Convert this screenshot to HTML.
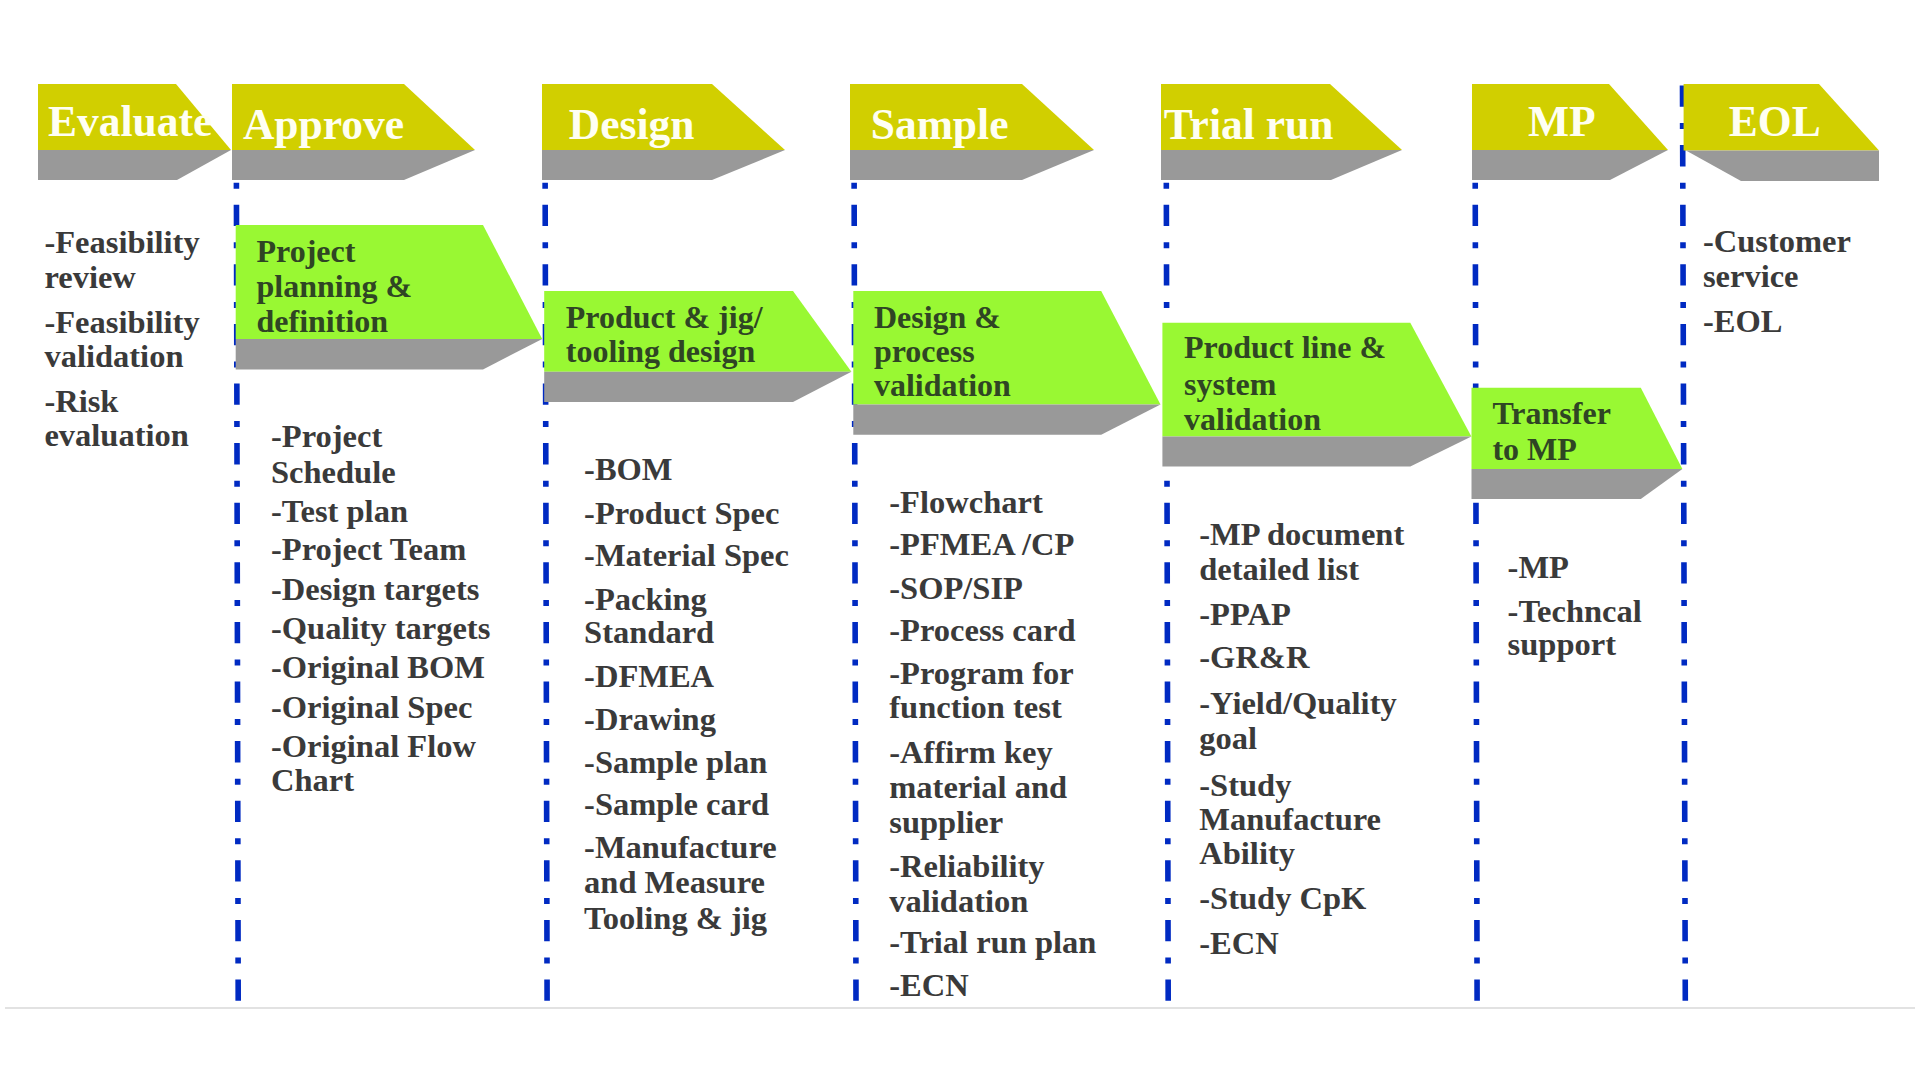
<!DOCTYPE html>
<html><head><meta charset="utf-8"><title>Product development flow</title>
<style>
html,body{margin:0;padding:0;background:#fff;width:1920px;height:1080px;overflow:hidden}
svg{display:block}
text{font-family:"Liberation Serif",serif;font-weight:bold}
.b{font-size:32.5px;fill:#3a3a3a}
.g{font-size:32px;fill:#2f4524}
.h{font-size:43.5px;fill:#fffff2}
</style></head><body>
<svg width="1920" height="1080" viewBox="0 0 1920 1080">
<rect x="0" y="0" width="1920" height="1080" fill="#ffffff"/>
<g>
<rect x="5" y="1007" width="1910" height="2" fill="#e2e2e2"/>

<line x1="236.2" y1="85.5" x2="238.2" y2="1002.5" stroke="#002ac2" stroke-width="5.6" stroke-dasharray="21.3 16.3 6 16"/>
<line x1="544.9" y1="85.5" x2="547.1" y2="1002.5" stroke="#002ac2" stroke-width="5.6" stroke-dasharray="21.3 16.3 6 16"/>
<line x1="853.9" y1="85.5" x2="856.0" y2="1002.5" stroke="#002ac2" stroke-width="5.6" stroke-dasharray="21.3 16.3 6 16"/>
<line x1="1166.1" y1="85.5" x2="1168.2" y2="1002.5" stroke="#002ac2" stroke-width="5.6" stroke-dasharray="21.3 16.3 6 16"/>
<line x1="1475.0" y1="85.5" x2="1477.1" y2="1002.5" stroke="#002ac2" stroke-width="5.6" stroke-dasharray="21.3 16.3 6 16"/>
<line x1="1682.5" y1="85.5" x2="1685.3" y2="1002.5" stroke="#002ac2" stroke-width="5.6" stroke-dasharray="21.3 16.3 6 16"/>
<polygon points="38,84 176,84 231,150 38,150" fill="#d1cf00"/><polygon points="38,150 231,150 177,180 38,180" fill="#999999"/>
<text class="h" x="48" y="136.3">Evaluate</text>
<polygon points="232,84 404,84 475,150 232,150" fill="#d1cf00"/><polygon points="232,150 475,150 404,180 232,180" fill="#999999"/>
<text class="h" x="242.9" y="138.5">Approve</text>
<polygon points="542,84 712,84 785,150 542,150" fill="#d1cf00"/><polygon points="542,150 785,150 712,180 542,180" fill="#999999"/>
<text class="h" x="568.8" y="138.5">Design</text>
<polygon points="850,84 1022,84 1094,150 850,150" fill="#d1cf00"/><polygon points="850,150 1094,150 1022,180 850,180" fill="#999999"/>
<text class="h" x="870.7" y="138.5">Sample</text>
<polygon points="1161,84 1330,84 1402,150 1161,150" fill="#d1cf00"/><polygon points="1161,150 1402,150 1331,180 1161,180" fill="#999999"/>
<text class="h" x="1163.8" y="138.5">Trial run</text>
<polygon points="1472,84 1609,84 1668,150 1472,150" fill="#d1cf00"/><polygon points="1472,150 1668,150 1610,180 1472,180" fill="#999999"/>
<text class="h" x="1528" y="136.4">MP</text>
<polygon points="1683.6,84 1819,84 1879,150.5 1683.6,150.5" fill="#d1cf00"/><polygon points="1686,150.5 1879,150.5 1879,181 1741,181" fill="#999999"/>
<text class="h" x="1728.8" y="136.1">EOL</text>
<polygon points="235.7,225 483,225 542.2,338.9 235.7,338.9" fill="#99f833"/><polygon points="235.7,338.9 542.2,338.9 483,369.4 235.7,369.4" fill="#999999"/>
<text class="g" x="256.5" y="262.3">Project</text>
<text class="g" x="256.5" y="296.8">planning &amp;</text>
<text class="g" x="256.5" y="332">definition</text>
<polygon points="544.2,290.9 793,290.9 851.4,371.8 544.2,371.8" fill="#99f833"/><polygon points="544.2,371.8 851.4,371.8 793,401.9 544.2,401.9" fill="#999999"/>
<text class="g" x="565.8" y="327.6">Product &amp; jig/</text>
<text class="g" x="565.8" y="362">tooling design</text>
<polygon points="853.3,290.9 1101.2,290.9 1160.5,404.6 853.3,404.6" fill="#99f833"/><polygon points="853.3,404.6 1160.5,404.6 1101.2,434.7 853.3,434.7" fill="#999999"/>
<text class="g" x="873.9" y="327.6">Design &amp;</text>
<text class="g" x="873.9" y="362.2">process</text>
<text class="g" x="873.9" y="396.2">validation</text>
<polygon points="1162.4,322.7 1410.3,322.7 1471.4,436.4 1162.4,436.4" fill="#99f833"/><polygon points="1162.4,436.4 1471.4,436.4 1410.3,466.5 1162.4,466.5" fill="#999999"/>
<text class="g" x="1184" y="358.4">Product line &amp;</text>
<text class="g" x="1184" y="394.6">system</text>
<text class="g" x="1184" y="430">validation</text>
<polygon points="1471.5,387.8 1640.8,387.8 1682.4,469 1471.5,469" fill="#99f833"/><polygon points="1471.5,469 1682.4,469 1640.8,499.1 1471.5,499.1" fill="#999999"/>
<text class="g" x="1492.4" y="423.7">Transfer</text>
<text class="g" x="1492.4" y="459.8">to MP</text>
<text class="b" x="44.4" y="253.0">-Feasibility</text>
<text class="b" x="44.4" y="287.6">review</text>
<text class="b" x="44.4" y="332.5">-Feasibility</text>
<text class="b" x="44.4" y="367.4">validation</text>
<text class="b" x="44.4" y="412.0">-Risk</text>
<text class="b" x="44.4" y="445.7">evaluation</text>
<text class="b" x="271" y="447.1">-Project</text>
<text class="b" x="271" y="483.2">Schedule</text>
<text class="b" x="271" y="522.1">-Test plan</text>
<text class="b" x="271" y="560.0">-Project Team</text>
<text class="b" x="271" y="599.9">-Design targets</text>
<text class="b" x="271" y="638.9">-Quality targets</text>
<text class="b" x="271" y="678.2">-Original BOM</text>
<text class="b" x="271" y="717.7">-Original Spec</text>
<text class="b" x="271" y="756.6">-Original Flow</text>
<text class="b" x="271" y="790.6">Chart</text>
<text class="b" x="584.1" y="480.0">-BOM</text>
<text class="b" x="584.1" y="524.0">-Product Spec</text>
<text class="b" x="584.1" y="566.2">-Material Spec</text>
<text class="b" x="584.1" y="609.5">-Packing</text>
<text class="b" x="584.1" y="643.2">Standard</text>
<text class="b" x="584.1" y="686.5">-DFMEA</text>
<text class="b" x="584.1" y="729.5">-Drawing</text>
<text class="b" x="584.1" y="772.8">-Sample plan</text>
<text class="b" x="584.1" y="815.0">-Sample card</text>
<text class="b" x="584.1" y="858.3">-Manufacture</text>
<text class="b" x="584.1" y="893.2">and Measure</text>
<text class="b" x="584.1" y="929.3">Tooling &amp; jig</text>
<text class="b" x="889.3" y="513.1">-Flowchart</text>
<text class="b" x="889.3" y="555.3">-PFMEA /CP</text>
<text class="b" x="889.3" y="598.6">-SOP/SIP</text>
<text class="b" x="889.3" y="640.7">-Process card</text>
<text class="b" x="889.3" y="684.0">-Program for</text>
<text class="b" x="889.3" y="717.7">function test</text>
<text class="b" x="889.3" y="762.6">-Affirm key</text>
<text class="b" x="889.3" y="797.5">material and</text>
<text class="b" x="889.3" y="832.5">supplier</text>
<text class="b" x="889.3" y="876.8">-Reliability</text>
<text class="b" x="889.3" y="911.7">validation</text>
<text class="b" x="889.3" y="953.3">-Trial run plan</text>
<text class="b" x="889.3" y="996.3">-ECN</text>
<text class="b" x="1199.3" y="545.0">-MP document</text>
<text class="b" x="1199.3" y="580.4">detailed list</text>
<text class="b" x="1199.3" y="625.0">-PPAP</text>
<text class="b" x="1199.3" y="668.3">-GR&amp;R</text>
<text class="b" x="1199.3" y="714.0">-Yield/Quality</text>
<text class="b" x="1199.3" y="749.0">goal</text>
<text class="b" x="1199.3" y="795.5">-Study</text>
<text class="b" x="1199.3" y="830.4">Manufacture</text>
<text class="b" x="1199.3" y="864.1">Ability</text>
<text class="b" x="1199.3" y="908.7">-Study CpK</text>
<text class="b" x="1199.3" y="954.4">-ECN</text>
<text class="b" x="1507.6" y="577.6">-MP</text>
<text class="b" x="1507.6" y="622.0">-Techncal</text>
<text class="b" x="1507.6" y="655.0">support</text>
<text class="b" x="1702.9" y="252.2">-Customer</text>
<text class="b" x="1702.9" y="287.0">service</text>
<text class="b" x="1702.9" y="332.2">-EOL</text>
</g>
</svg>
</body></html>
